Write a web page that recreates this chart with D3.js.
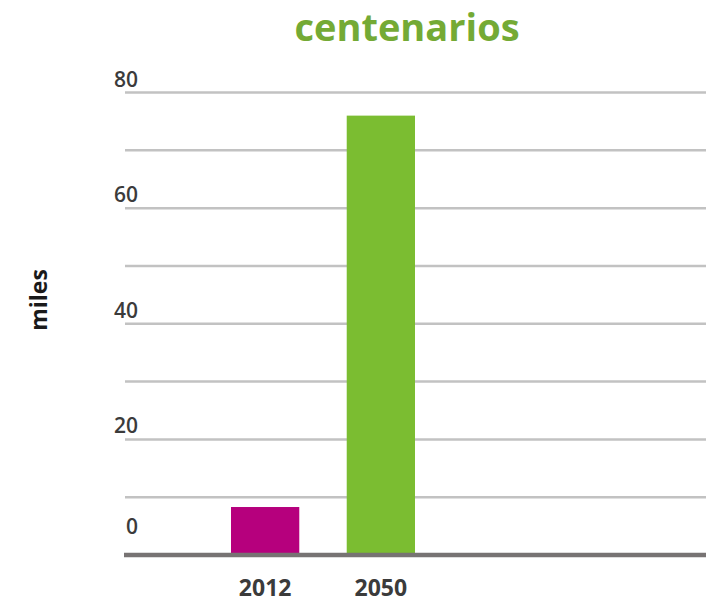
<!DOCTYPE html>
<html>
<head>
<meta charset="utf-8">
<script src="https://cdn.jsdelivr.net/npm/d3@7"></script>
<style>
  body { margin: 0; background: #fff; }
  text { font-family: "Open Sans", "Noto Sans", sans-serif; }
</style>
</head>
<body>
<script>
const years = ["2012", "2050"];
const values = [8.3, 76];
const barColors = ["#b6007d", "#7bbd31"];
const gridValues = [10, 20, 30, 40, 50, 60, 70, 80];
const tickLabels = [0, 20, 40, 60, 80];

const svgWidth = 711;
const svgHeight = 604;

const svg = d3.select("body").append("svg")
    .attr("width", svgWidth)
    .attr("height", svgHeight);

const y = d3.scaleLinear().domain([0, 80]).range([555, 92.5]);
const x = d3.scaleBand().domain(years).range([231, 415]).paddingInner(0.41).paddingOuter(0);

// title
svg.append("text")
    .attr("x", 407)
    .attr("y", 41)
    .attr("text-anchor", "middle")
    .attr("font-size", 38)
    .attr("font-weight", 700)
    .attr("fill", "#74aa35")
    .text("centenarios");

// gridlines
svg.append("g")
    .selectAll("line")
    .data(gridValues)
    .join("line")
    .attr("x1", 125)
    .attr("x2", 706)
    .attr("y1", d => y(d))
    .attr("y2", d => y(d))
    .attr("stroke", "#c2c2c2")
    .attr("stroke-width", 2.5);

// bars
svg.append("g")
    .selectAll("rect")
    .data(values)
    .join("rect")
    .attr("x", (d, i) => x(years[i]))
    .attr("width", x.bandwidth())
    .attr("y", d => y(d))
    .attr("height", d => y(0) - y(d))
    .attr("fill", (d, i) => barColors[i]);

// baseline
svg.append("line")
    .attr("x1", 124)
    .attr("x2", 706)
    .attr("y1", y(0))
    .attr("y2", y(0))
    .attr("stroke", "#777373")
    .attr("stroke-width", 4.5);

// y tick labels
svg.append("g")
    .selectAll("text")
    .data(tickLabels)
    .join("text")
    .attr("x", 138)
    .attr("y", d => y(d) + (d === 0 ? -21 : -6))
    .attr("text-anchor", "end")
    .attr("font-size", 21)
    .attr("font-weight", 600)
    .attr("fill", "#3b3b3b")
    .text(d => d);

// x labels
svg.append("g")
    .selectAll("text")
    .data(years)
    .join("text")
    .attr("x", d => x(d) + x.bandwidth() / 2)
    .attr("y", 596)
    .attr("text-anchor", "middle")
    .attr("font-size", 23)
    .attr("font-weight", 700)
    .attr("fill", "#3b3b3b")
    .text(d => d);

// y axis title
svg.append("text")
    .attr("transform", "translate(47,300) rotate(-90)")
    .attr("text-anchor", "middle")
    .attr("font-size", 23)
    .attr("font-weight", 700)
    .attr("fill", "#1a1a1a")
    .text("miles");
</script>
</body>
</html>
